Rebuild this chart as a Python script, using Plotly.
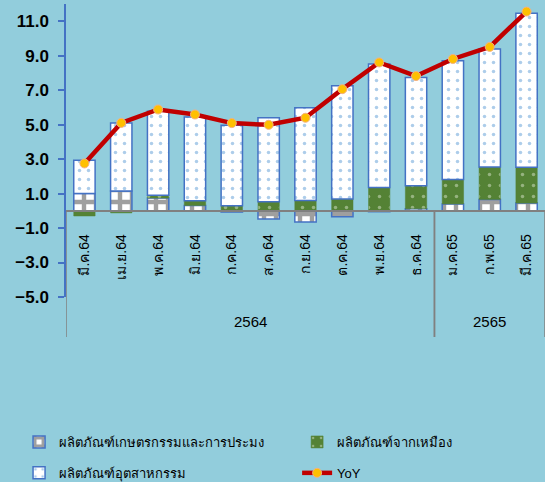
import plotly.graph_objects as go

years = ["2564"] * 10 + ["2565"] * 3
months = ["มี.ค.64", "เม.ย.64", "พ.ค.64", "มิ.ย.64", "ก.ค.64", "ส.ค.64", "ก.ย.64",
          "ต.ค.64", "พ.ย.64", "ธ.ค.64", "ม.ค.65", "ก.พ.65", "มี.ค.65"]

agri = [1.00, 1.15, 0.74, 0.31, -0.07, -0.48, -0.65, -0.35, -0.05, 0.12, 0.40, 0.66, 0.45]
mining = [-0.30, -0.12, 0.16, 0.28, 0.30, 0.52, 0.60, 0.68, 1.35, 1.33, 1.42, 1.88, 2.08]
industry = [1.94, 3.95, 4.88, 4.86, 4.67, 4.88, 5.38, 6.58, 7.17, 6.29, 6.89, 6.85, 8.93]
yoy = [2.75, 5.10, 5.88, 5.59, 5.09, 4.99, 5.40, 7.06, 8.61, 7.82, 8.81, 9.51, 11.56]

names = ["ผลิตภัณฑ์เกษตรกรรมและการประมง", "ผลิตภัณฑ์จากเหมือง", "ผลิตภัณฑ์อุตสาหกรรม", "YoY"]

BG = "#92CDDC"
BLUE = "#4472C4"
GRAY = "#808080"
YMIN, YMAX = -5, 12
ZERO_FRAC = (0 - YMIN) / (YMAX - YMIN)

fig = go.Figure()
fig.add_trace(go.Bar(
    x=months, y=agri, name=names[0], legend="legend", legendgroup="a",
    marker=dict(color="white", line=dict(color=BLUE, width=1.5),
                pattern=dict(shape="+", fgcolor="#404040", bgcolor="white",
                             size=12, solidity=0.6))))
fig.add_trace(go.Bar(
    x=months, y=mining, name=names[1], legend="legend2", legendgroup="b",
    marker=dict(color="#548235", line=dict(color="#548235", width=0.5),
                pattern=dict(shape=".", fgcolor="#D8E4CC", bgcolor="#548235",
                             size=11, solidity=0.08))))
fig.add_trace(go.Bar(
    x=months, y=industry, name=names[2], legend="legend", legendgroup="c",
    marker=dict(color="white", line=dict(color=BLUE, width=1.5),
                pattern=dict(shape=".", fgcolor="#5B9BD5", bgcolor="white",
                             size=9, solidity=0.12))))
fig.add_trace(go.Scatter(
    x=months, y=yoy, name=names[3], mode="lines+markers", legend="legend2", legendgroup="d",
    line=dict(color="#C00000", width=4.5),
    marker=dict(color="#FFC000", size=9, line=dict(color="#F4B183", width=1))))

# year group labels and dividers
groups = []
for i, yv in enumerate(years):
    if not groups or groups[-1][0] != yv:
        groups.append([yv, i, i])
    else:
        groups[-1][2] = i
shapes = []
annotations = []
for gname, i0, i1 in groups:
    annotations.append(dict(x=(i0 + i1) / 2, y=-0.0853, xref="x", yref="paper",
                            text=gname, showarrow=False, yanchor="middle",
                            font=dict(size=15, color="black")))
    for xb in (i0 - 0.5, i1 + 0.5):
        shapes.append(dict(type="line", xref="x", yref="paper", x0=xb, x1=xb,
                           y0=ZERO_FRAC, y1=-0.1365, layer="above",
                           line=dict(color=GRAY, width=1.5)))

fig.update_layout(
    width=545, height=482,
    paper_bgcolor=BG, plot_bgcolor=BG,
    margin=dict(l=66, r=0, t=4, b=185, autoexpand=False),
    barmode="relative", bargap=0.42,
    font=dict(family="Liberation Sans, DejaVu Sans, sans-serif", color="black", size=14),
    legend=dict(x=-0.098, y=-0.4437, xanchor="left", yanchor="top",
                bgcolor="rgba(0,0,0,0)", tracegroupgap=11, font=dict(size=13)),
    legend2=dict(x=0.4825, y=-0.4437, xanchor="left", yanchor="top",
                 bgcolor="rgba(0,0,0,0)", tracegroupgap=11, font=dict(size=13)),
    showlegend=True,
    shapes=shapes, annotations=annotations,
)
fig.update_yaxes(
    range=[YMIN, YMAX], tick0=1, dtick=2, tickformat=".1f", automargin=False,
    showgrid=False, zeroline=False,
    showline=True, linecolor=BLUE, linewidth=1.5,
    ticks="outside", tickcolor=BLUE, ticklen=6, tickwidth=1.5,
    tickfont=dict(size=17, family="Liberation Sans, sans-serif", weight="bold"),
    ticklabelstandoff=6,
)
fig.update_xaxes(
    type="category", anchor="free", position=ZERO_FRAC, automargin=False,
    range=[-0.5, len(months) - 0.5],
    showgrid=False, zeroline=False,
    showline=True, linecolor=GRAY, linewidth=1.5,
    tickangle=-90, ticks="", tickfont=dict(size=14), ticklabelstandoff=17,
)

fig.write_html(
    "out.html",
    config={"displayModeBar": False},
    post_script="document.body.style.margin='0';document.body.style.overflow='hidden';",
)
